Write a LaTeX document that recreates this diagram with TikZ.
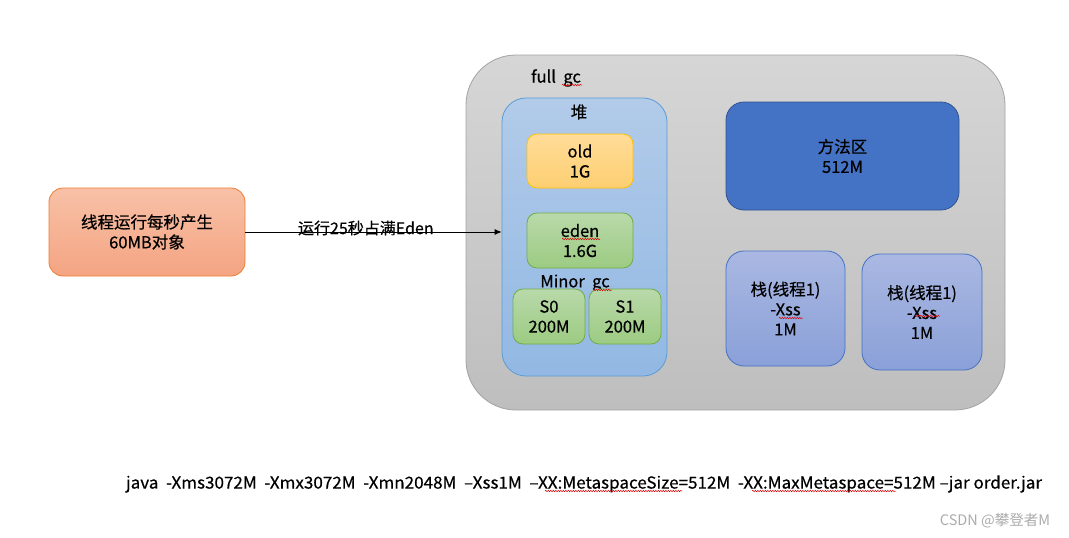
\documentclass[tikz,border=0pt]{standalone}
\usepackage{fontspec}
\usepackage{graphicx}
\setmainfont{Noto Sans CJK SC}[FakeBold=0.5]
\newfontfamily\wmfont{Noto Sans CJK SC}
\usetikzlibrary{arrows.meta,decorations.pathmorphing}
\definecolor{outerT}{HTML}{D6D6D6}\definecolor{outerB}{HTML}{BEBEBE}\definecolor{outerD}{HTML}{A3A3A3}
\definecolor{heapT}{HTML}{B2CBE9}\definecolor{heapB}{HTML}{92B8E3}\definecolor{heapD}{HTML}{5B9BD5}
\definecolor{oldT}{HTML}{FFDC98}\definecolor{oldB}{HTML}{FDCF72}\definecolor{oldD}{HTML}{FFC000}
\definecolor{grnT}{HTML}{B9D9AA}\definecolor{grnB}{HTML}{9CCB82}\definecolor{grnD}{HTML}{70AD47}
\definecolor{methF}{HTML}{4472C4}\definecolor{methD}{HTML}{2F528F}
\definecolor{stkT}{HTML}{AAB8E2}\definecolor{stkB}{HTML}{8AA0D8}\definecolor{stkD}{HTML}{4472C4}
\definecolor{lftT}{HTML}{F8C1A7}\definecolor{lftB}{HTML}{F4A482}\definecolor{lftD}{HTML}{ED7D31}
\definecolor{wm}{HTML}{ABABAB}
\tikzset{
  box/.style={draw, line width=0.8pt, inner sep=0pt, align=center, font=\fontsize{16.5}{20}\selectfont},
  lbl/.style={inner sep=0pt, font=\fontsize{16.5}{20}\selectfont},
  squig/.style={red!85!black, line width=0.5pt, decorate, decoration={snake, amplitude=0.7pt, segment length=2.5pt}}
}
\begin{document}
\begin{tikzpicture}[x=1pt,y=-1pt]
\useasboundingbox (0,0) rectangle (1069,538);
% outer gray area
\node[box, draw=outerD, top color=outerT, bottom color=outerB, rounded corners=50pt,
  minimum width=539pt, minimum height=355pt] (outer) at (735.5,232.5) {};
\node[lbl] (fullgc) at (556,78) {full\ \ gc};
% heap
\node[box, draw=heapD, top color=heapT, bottom color=heapB, rounded corners=24pt,
  minimum width=165pt, minimum height=278pt] (heap) at (584.5,237) {};
\node[lbl] (heaplbl) at (579,112) {堆};
\node[box, draw=oldD, top color=oldT, bottom color=oldB, rounded corners=10pt,
  minimum width=106pt, minimum height=54pt] (old) at (580,161) {old\\1G};
\node[box, draw=grnD, top color=grnT, bottom color=grnB, rounded corners=10pt,
  minimum width=106pt, minimum height=55pt] (eden) at (580,240.5) {eden\\1.6G};
\node[lbl] (minor) at (575,283) {Minor\ \ gc};
\node[box, draw=grnD, top color=grnT, bottom color=grnB, rounded corners=10pt,
  minimum width=72pt, minimum height=55pt] (s0) at (549,316.5) {S0\\200M};
\node[box, draw=grnD, top color=grnT, bottom color=grnB, rounded corners=10pt,
  minimum width=72pt, minimum height=55pt] (s1) at (625,316.5) {S1\\200M};
% method area
\node[box, draw=methD, fill=methF, rounded corners=18pt,
  minimum width=233pt, minimum height=108pt] (meth) at (842.5,156) {方法区\\512M};
% stacks
\node[box, draw=stkD, top color=stkT, bottom color=stkB, rounded corners=18pt,
  minimum width=119pt, minimum height=115pt] (stk1) at (785.5,308.5) {栈(线程1)\\-Xss\\1M};
\node[box, draw=stkD, top color=stkT, bottom color=stkB, rounded corners=18pt,
  minimum width=120pt, minimum height=116pt] (stk2) at (922,312) {栈(线程1)\\-Xss\\1M};
% left box
\node[box, draw=lftD, top color=lftT, bottom color=lftB, rounded corners=14pt,
  minimum width=196pt, minimum height=88pt] (left) at (147,232) {线程运行每秒产生\\60MB对象};
% arrow
\draw[line width=0.8pt, -{Latex[length=7pt,width=6pt]}] (left.east) -- (left.east -| heap.west)
  node[pos=0.47, yshift=4pt, lbl, font=\fontsize{16}{20}\selectfont] (alabel) {运行25秒占满Eden};
% command line
\node[lbl] (cmd) at (584,484) {\resizebox{916pt}{\height}{java\ \ -Xms3072M\ \ -Xmx3072M\ \ -Xmn2048M\ \ –Xss1M\ \ –XX:MetaspaceSize=512M\ \ -XX:MaxMetaspace=512M –jar order.jar}};
% watermark
\node[lbl, text=wm, font=\wmfont\fontsize{14.5}{16}\selectfont] (wmark) at (995,521) {CSDN @攀登者M};
% spell-check squiggles
\draw[squig] (562,85) -- (582,85);
\draw[squig] (562,239) -- (600,239);
\draw[squig] (593,290) -- (612,290);
\draw[squig] (779,318) -- (803,318);
\draw[squig] (915,316) -- (940,316);
\draw[squig] (545,491) -- (682,491);
\draw[squig] (752,491) -- (896,491);
\end{tikzpicture}
\end{document}
